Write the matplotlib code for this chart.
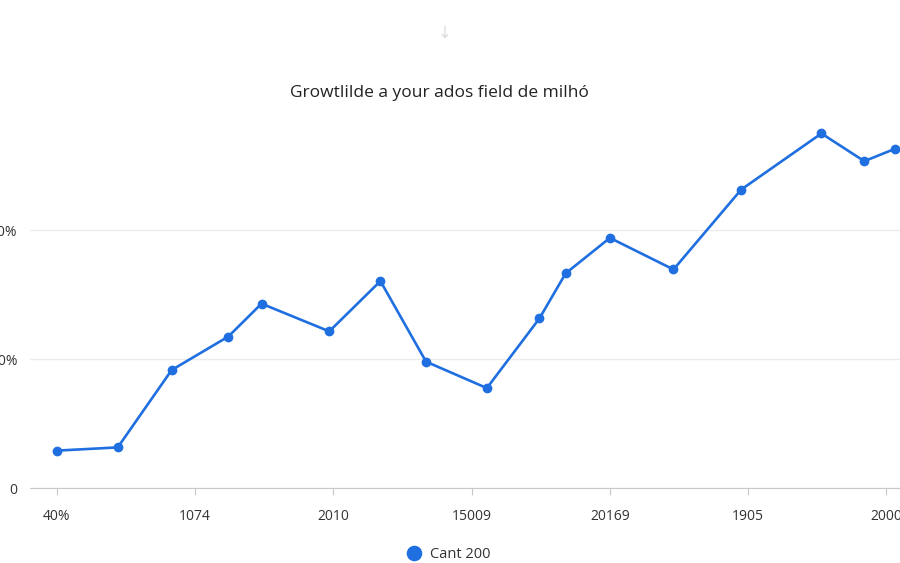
import matplotlib.pyplot as plt

plt.rcParams['font.family'] = ['Open Sans', 'DejaVu Sans']

# positions along x in tick units (ticks at 0..6)
x_pos = [0.0, 0.44, 0.83, 1.24, 1.48, 1.97, 2.34, 2.67, 3.11, 3.49, 3.68,
         4.00, 4.46, 4.95, 5.53, 5.84, 6.06]
values = [5.8, 6.3, 18.3, 23.5, 28.6, 24.3, 32.1, 19.6, 15.5, 26.3, 33.3,
          38.8, 33.9, 46.3, 55.0, 50.7, 52.6]

x_ticks = [0, 1, 2, 3, 4, 5, 6]
x_labels = ['40%', '1074', '2010', '15009', '20169', '1905', '2000']
y_ticks = [0, 20, 40]
y_labels = ['0', '20%', '40%']

title = 'Growtlilde a your ados field de milhó'
series_name = 'Cant 200'
blue = '#1f6fe0'

fig = plt.figure(figsize=(9, 5.63), dpi=100)
ax = fig.add_axes([0.0333, 0.1332, 0.98, 0.687])

ax.plot(x_pos, values, color=blue, linewidth=1.9, marker='o', markersize=6,
        clip_on=False, label=series_name)

ax.set_xlim(-0.195, 6.185)
ax.set_ylim(0, 60)
ax.set_xticks(x_ticks)
ax.set_xticklabels(x_labels)
ax.set_yticks(y_ticks)
ax.set_yticklabels(y_labels)

ax.grid(axis='y', color='#ececec', linewidth=1)
ax.set_axisbelow(True)
for s in ['top', 'right', 'left']:
    ax.spines[s].set_visible(False)
ax.spines['bottom'].set_color('#c8c8c8')
ax.tick_params(axis='x', length=5, color='#c8c8c8', pad=10, labelsize=10,
               labelcolor='#333333')
ax.tick_params(axis='y', length=0, pad=9, labelsize=10, labelcolor='#333333')

fig.text(0.488, 0.834, title, ha='center', va='center', fontsize=12.5,
         color='#222222')
fig.text(0.494, 0.94, '\u2193', ha='center', va='center', fontsize=12,
         color='#dddddd')

ax.legend(loc='center', bbox_to_anchor=(0.475, -0.172), frameon=False,
          fontsize=10.5, markerscale=1.7, handlelength=0.8, handletextpad=0.7,
          labelcolor='#333333')
leg = ax.get_legend()
for h in leg.legend_handles:
    h.set_linestyle('none')

fig.savefig('out.png', dpi=100)
